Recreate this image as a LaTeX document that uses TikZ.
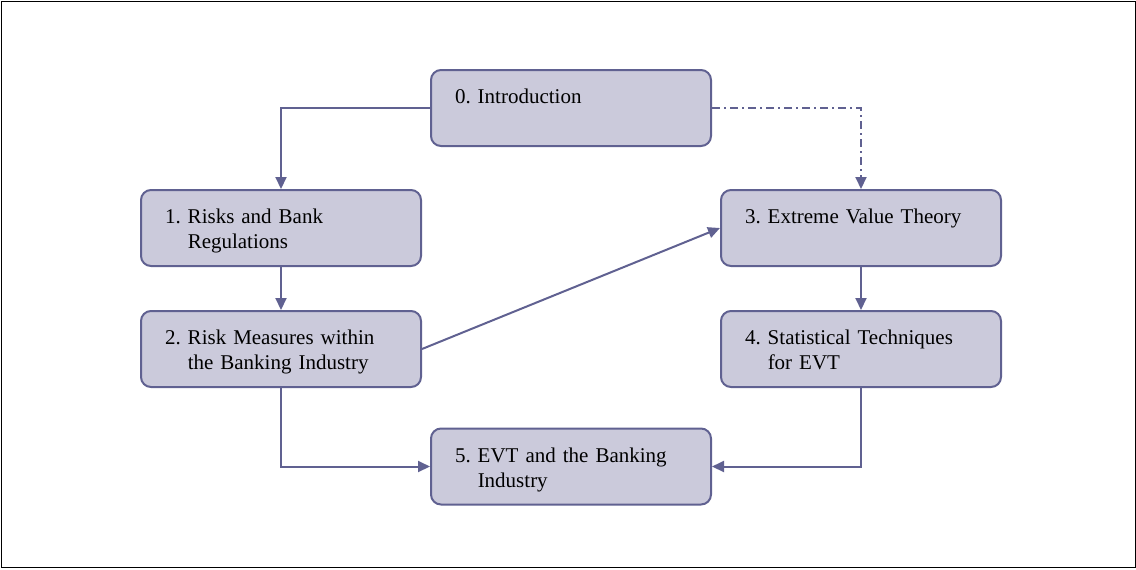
\documentclass[tikz,border=0pt]{standalone}
\usepackage{fontspec}
\setmainfont{Liberation Serif}
\usetikzlibrary{arrows.meta}
\definecolor{boxfill}{RGB}{203,202,219}
\definecolor{boxline}{RGB}{96,97,145}
\tikzset{
	chap/.style={draw=boxline, fill=boxfill, line width=1pt, rounded corners=5pt,
		text width=116pt, inner xsep=12pt, inner ysep=0pt, minimum height=38pt,
		align=left, text height=8.5pt, text depth=13pt,
		font=\fontsize{10.5}{12.5}\selectfont\frenchspacing},
	link/.style={draw=boxline, line width=1pt, -{Triangle[length=6pt,width=5.5pt]}}
}
\begin{document}
\begin{tikzpicture}[x=0.5pt, y=-0.5pt]
			%%%%% START %%%%%
			
			\useasboundingbox (0, 0) rectangle (1136, 569);
			\draw[line width=0.75pt] (1.5, 1.5) rectangle (1135.5, 567.5);
			
			\node[chap] (intro) at (571, 108) {0. Introduction\\\mbox{}};
			\node[chap] (risk) at (281, 228) {1. Risks and Bank\\\hphantom{1. }Regulations};
			\node[chap] (meas) at (281, 349) {2. Risk Measures within\\\hphantom{2. }the Banking Industry};
			\node[chap] (evt) at (861, 228) {3. Extreme Value Theory\\\mbox{}};
			\node[chap] (stat) at (861, 349) {4. Statistical Techniques\\\hphantom{4. }for EVT};
			\node[chap] (bank) at (571, 466.5) {5. EVT and the Banking\\\hphantom{5. }Industry};
			
			\draw[link] (intro.west) -| (risk.north);
			\draw[link, dash pattern=on 4pt off 2pt on 1pt off 2pt] (intro.east) -| (evt.north);
			\draw[link] (risk.south) -- (meas.north);
			\draw[link] (meas.east) -- (evt.west);
			\draw[link] (evt.south) -- (stat.north);
			\draw[link] (meas.south) |- (bank.west);
			\draw[link] (stat.south) |- (bank.east);
			
			%%%%% END %%%%%
\end{tikzpicture}
\end{document}
